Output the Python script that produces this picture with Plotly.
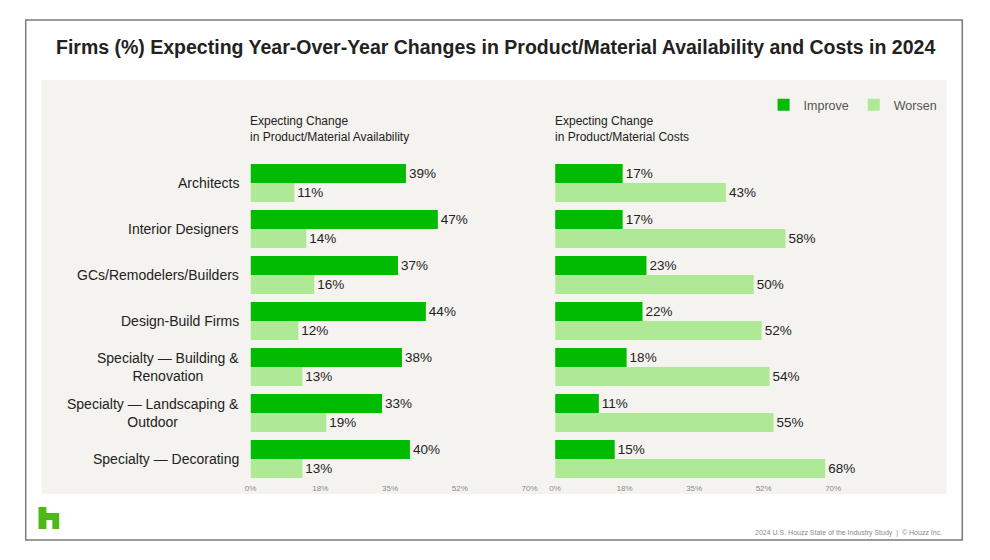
import plotly.graph_objects as go

W, H = 990, 560

categories = [
    "Architects",
    "Interior Designers",
    "GCs/Remodelers/Builders",
    "Design-Build Firms",
    "Specialty — Building &<br>Renovation",
    "Specialty — Landscaping &<br>Outdoor",
    "Specialty — Decorating",
]

avail_improve = [39, 47, 37, 44, 38, 33, 40]
avail_worsen = [11, 14, 16, 12, 13, 19, 13]
cost_improve = [17, 17, 23, 22, 18, 11, 15]
cost_worsen = [43, 58, 50, 52, 54, 55, 68]

tick_vals = [0, 17.5, 35, 52.5, 70]
tick_text = ["0%", "18%", "35%", "52%", "70%"]

IMPROVE = "#00bb00"
WORSEN = "#aee996"
FONT = "Liberation Sans, Arial, sans-serif"


def px(x, y):
    # pixel position -> paper fraction
    return x / W, 1 - y / H


def bar(vals, name, color, xaxis, show):
    return go.Bar(
        y=categories, x=vals, orientation="h", name=name,
        marker=dict(color=color, line=dict(width=0)),
        text=[f"{v}%" for v in vals], textposition="outside",
        textfont=dict(size=13.5, color="#222"), constraintext="none",
        cliponaxis=False, xaxis=xaxis, yaxis="y",
        legendgroup=name, showlegend=show, hoverinfo="skip",
    )


fig = go.Figure([
    bar(avail_improve, "Improve", IMPROVE, "x", True),
    bar(avail_worsen, "Worsen", WORSEN, "x", True),
    bar(cost_improve, "Improve", IMPROVE, "x2", False),
    bar(cost_worsen, "Worsen", WORSEN, "x2", False),
])

axis_common = dict(
    range=[0, 70], tickvals=tick_vals, ticktext=tick_text,
    showgrid=False, zeroline=False, showline=False, ticks="",
    tickfont=dict(size=8, color="#8a8a8a"), anchor="y",
)

# logo path (houzz "h")
logo_pts = [(33, 507), (41, 507), (41, 513), (54, 513), (54, 529), (47, 529),
            (47, 520), (41, 520), (41, 529), (33, 529)]
logo_path = "M " + " L ".join(f"{px(x, y)[0]:.4f},{px(x, y)[1]:.4f}" for x, y in logo_pts) + " Z"

x0, y0 = px(20, 540)
x1, y1 = px(970, 20)
p0, q0 = px(36, 494)
p1, q1 = px(954, 80)

fig.update_layout(
    width=W, height=H, autosize=False,
    margin=dict(l=0, r=0, t=0, b=0),
    paper_bgcolor="white", plot_bgcolor="rgba(0,0,0,0)",
    font=dict(family=FONT, color="#222"),
    barmode="group", bargap=0.17, bargroupgap=0,
    xaxis=dict(domain=[248 / W, 531 / W], **axis_common),
    xaxis2=dict(domain=[557 / W, 839 / W], **axis_common),
    yaxis=dict(domain=[1 - 482 / H, 1 - 160 / H], autorange="reversed",
               showticklabels=False, showgrid=False, zeroline=False),
    legend=dict(orientation="h", x=950 / W, xanchor="right",
                y=1 - 105 / H, yanchor="middle",
                font=dict(size=12.5, color="#555"), bgcolor="rgba(0,0,0,0)",
                traceorder="normal"),
    shapes=[
        dict(type="rect", xref="paper", yref="paper", x0=x0, y0=y0, x1=x1, y1=y1,
             line=dict(color="#7a7a7a", width=1.5), fillcolor="white", layer="below"),
        dict(type="rect", xref="paper", yref="paper", x0=p0, y0=q0, x1=p1, y1=q1,
             line=dict(width=0), fillcolor="#f4f3ef", layer="below"),
        dict(type="path", xref="paper", yref="paper", path=logo_path,
             line=dict(width=0), fillcolor="#4cbb17"),
    ],
)

annotations = [
    dict(text="<b>Firms (%) Expecting Year-Over-Year Changes in Product/Material Availability and Costs in 2024</b>",
         x=497 / W, y=1 - 47 / H, font=dict(size=19.5, color="#222")),
    dict(text="Expecting Change<br>in Product/Material Availability",
         x=245 / W, y=1 - 129 / H, xanchor="left", align="left",
         font=dict(size=12, color="#222")),
    dict(text="Expecting Change<br>in Product/Material Costs",
         x=555 / W, y=1 - 129 / H, xanchor="left", align="left",
         font=dict(size=12, color="#222")),
    dict(text="2024 U.S. Houzz State of the Industry Study  |  © Houzz Inc.",
         x=951 / W, y=1 - 533 / H, xanchor="right",
         font=dict(size=7, color="#888")),
]
for a in annotations:
    a.setdefault("xref", "paper")
    a.setdefault("yref", "paper")
    a.setdefault("showarrow", False)
    a.setdefault("yanchor", "middle")

for c in categories:
    annotations.append(dict(
        text=c, xref="paper", yref="y", x=238 / W, y=c, xanchor="right",
        yanchor="middle", align="center", showarrow=False,
        font=dict(size=14, color="#222"),
    ))

fig.update_layout(annotations=annotations)

# drop the default page margin / scrollbars so the figure sits at the window's origin
page_fix = ("document.body.style.margin='0';"
            "document.body.style.overflow='hidden';"
            "document.documentElement.style.overflow='hidden';")
fig.write_html("out.html", config={"displayModeBar": False, "responsive": False},
               post_script=page_fix)
